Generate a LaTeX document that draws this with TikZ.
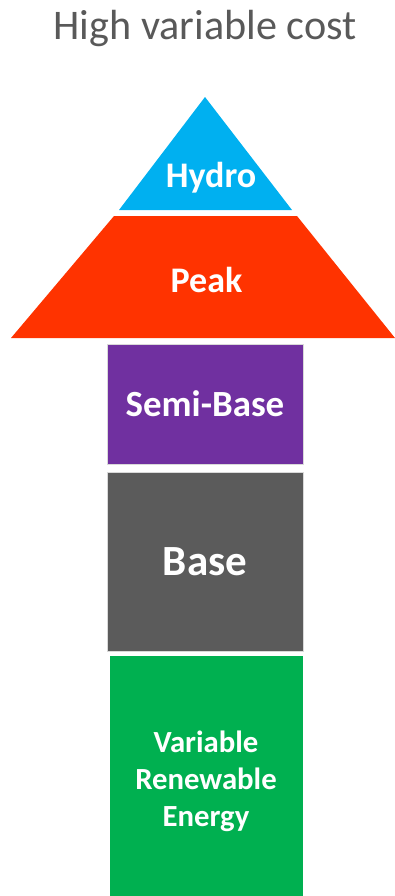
\documentclass[tikz,border=0pt]{standalone}
\usepackage{fontspec}
\setmainfont{Carlito}
\definecolor{hydroblue}{HTML}{00B0F0}
\definecolor{peakred}{HTML}{FF3300}
\definecolor{semipurple}{HTML}{7030A0}
\definecolor{basegray}{HTML}{5B5B5B}
\definecolor{vregreen}{HTML}{00B050}
\definecolor{titlegray}{HTML}{595959}
\tikzset{
  block/.style={rectangle, inner sep=0pt, text=white, font=\bfseries, align=center},
  lbl/.style={anchor=base, text=white, font=\bfseries\fontsize{20.5}{24}\selectfont}
}
\begin{document}
\begin{tikzpicture}[x=0.02cm, y=-0.02cm]
                \useasboundingbox (0,0) rectangle (395,896);
                \node[anchor=base, text=titlegray, font=\fontsize{24}{28}\selectfont] (title) at (205,39) {High variable cost};
                % pyramid top
                \fill[hydroblue] (205,97) -- (292,210) -- (119,210) -- cycle;
                \node[lbl] (hydro) at (211,187) {Hydro};
                \fill[peakred] (114,216) -- (297,216) -- (395,338) -- (11,338) -- cycle;
                \node[lbl] (peak) at (206.5,292) {Peak};
                % stacked blocks
                \node[block, fill=semipurple, draw=gray!30, line width=0.4pt, minimum width=3.92cm, minimum height=2.4cm,
                      font=\bfseries\fontsize{21}{25}\selectfont] (semibase) at (205,404) {Semi-Base};
                \node[block, fill=basegray, draw=gray!30, line width=0.4pt, minimum width=3.92cm, minimum height=3.58cm,
                      font=\bfseries\fontsize{24.5}{29}\selectfont] (base) at (205,561.5) {Base};
                \node[block, fill=vregreen, minimum width=3.86cm, minimum height=4.8cm] (vre) at (206.5,776) {};
                \node[block, font=\bfseries\fontsize{17.5}{21}\selectfont] (vretext) at (206,781) {Variable\\Renewable\\Energy};
            \end{tikzpicture}
\end{document}
